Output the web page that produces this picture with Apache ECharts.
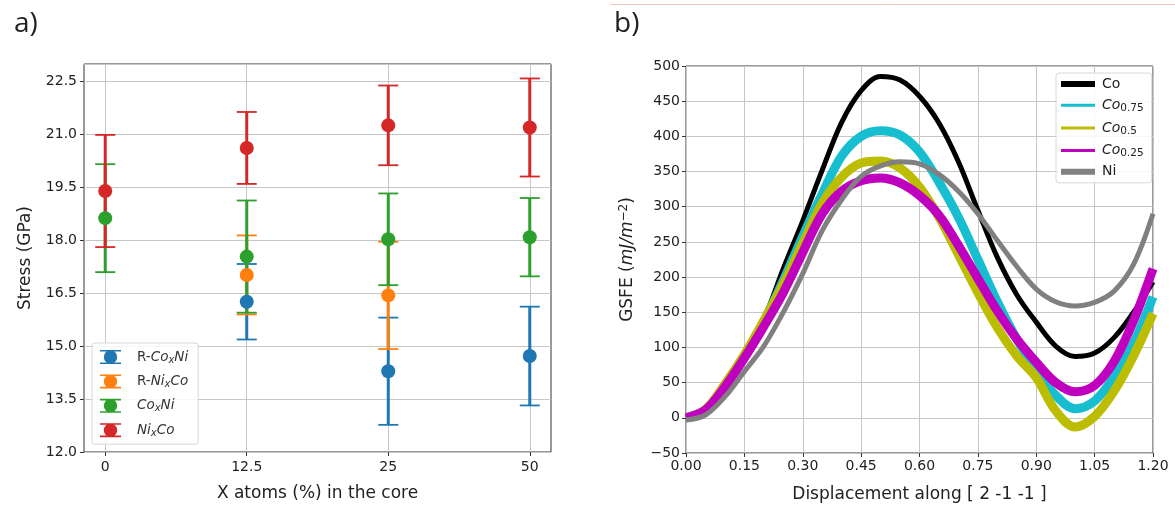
<!DOCTYPE html>
<html>
<head>
<meta charset="utf-8">
<script src="https://cdn.jsdelivr.net/npm/echarts@6/dist/echarts.min.js"></script>
<style>
  html, body { margin: 0; padding: 0; background: #fff; }
  #chart { width: 1175px; height: 508px; }
</style>
</head>
<body>
<div id="chart"></div>
<script>
// ---- panel a: stress with error bars ----
var coreLabels = ['0', '12.5', '25', '50'];
var rCoNiMean = [null, 16.26, 14.29, 14.72];
var rCoNiErr = [null, 1.07, 1.52, 1.40];
var rNiCoMean = [null, 17.02, 16.44, null];
var rNiCoErr = [null, 1.12, 1.52, null];
var coNiMean = [18.63, 17.54, 18.03, 18.09];
var coNiErr = [1.53, 1.59, 1.30, 1.11];
var niCoMean = [19.40, 20.62, 21.26, 21.20];
var niCoErr = [1.59, 1.02, 1.13, 1.39];

// ---- panel b: GSFE curves ----
var disp = [0, 0.05, 0.1, 0.15, 0.2, 0.25, 0.3, 0.35, 0.4, 0.45, 0.5, 0.55, 0.6,
  0.65, 0.7, 0.75, 0.8, 0.85, 0.9, 0.95, 1.0, 1.05, 1.1, 1.15, 1.2];
var gsfeCo = [0, 10, 45, 88, 140, 212, 280, 352, 420, 465, 485, 480, 457, 419, 364, 295, 228, 175, 136, 102, 87, 92, 114, 150, 193];
var gsfeCo75 = [0, 10, 45, 87, 137, 195, 258, 318, 372, 400, 408, 402, 378, 335, 285, 225, 165, 112, 68, 32, 13, 24, 58, 106, 172];
var gsfeCo50 = [0, 12, 48, 90, 138, 190, 248, 305, 342, 362, 365, 355, 328, 285, 232, 178, 128, 88, 57, 10, -13, 2, 38, 88, 148];
var gsfeCo25 = [0, 11, 44, 85, 130, 178, 235, 290, 322, 337, 341, 334, 316, 288, 245, 198, 152, 112, 79, 50, 37, 46, 80, 138, 212];
var gsfeNi = [-3, 4, 30, 66, 102, 150, 205, 266, 310, 343, 358, 364, 361, 346, 322, 290, 252, 215, 183, 165, 159, 164, 180, 218, 290];

var FONT = 'DejaVu Sans';
var GRIDC = '#c6c6c6';
var AXC = '#333';

function pts(mean, err) {
  var out = [];
  mean.forEach(function (m, i) {
    if (m !== null) out.push([i, m, err[i]]);
  });
  return out;
}

function errSeries(name, color, mean, err) {
  return {
    name: name,
    type: 'custom',
    xAxisIndex: 0,
    yAxisIndex: 0,
    itemStyle: { color: color },
    data: pts(mean, err),
    renderItem: function (params, api) {
      var x = api.value(0), y = api.value(1), e = api.value(2);
      var top = api.coord([x, y + e]);
      var bot = api.coord([x, y - e]);
      var half = 10;
      return {
        type: 'group',
        children: [
          { type: 'line', shape: { x1: top[0], y1: top[1], x2: bot[0], y2: bot[1] }, style: { stroke: color, lineWidth: 3 } },
          { type: 'line', shape: { x1: top[0] - half, y1: top[1], x2: top[0] + half, y2: top[1] }, style: { stroke: color, lineWidth: 1.8 } },
          { type: 'line', shape: { x1: bot[0] - half, y1: bot[1], x2: bot[0] + half, y2: bot[1] }, style: { stroke: color, lineWidth: 1.8 } }
        ]
      };
    },
    z: 2
  };
}

function dotSeries(name, color, mean, err) {
  return {
    name: name,
    type: 'scatter',
    xAxisIndex: 0,
    yAxisIndex: 0,
    symbol: 'circle',
    symbolSize: 14,
    itemStyle: { color: color, opacity: 1 },
    data: pts(mean, err).map(function (p) { return [p[0], p[1]]; }),
    z: 3
  };
}

function curve(name, color, ys, width) {
  return {
    name: name,
    type: 'line',
    xAxisIndex: 1,
    yAxisIndex: 1,
    showSymbol: false,
    symbol: 'none',
    smooth: 0.35,
    lineStyle: { color: color, width: width },
    itemStyle: { color: color },
    data: disp.map(function (x, i) { return [x, ys[i]]; }),
    z: 2
  };
}

var errIcon = 'path://M0,0H21V1.6H0Z M0,12.4H21V14H0Z M10.5,0.3A6.7,6.7 0 1,1 10.49,0.3Z';

var subRich = {
  n: { fontFamily: FONT, fontSize: 13.5, color: '#333', lineHeight: 16 },
  i: { fontFamily: FONT, fontSize: 13.5, fontStyle: 'italic', color: '#333', lineHeight: 16 },
  s: { fontFamily: FONT, fontSize: 10, fontStyle: 'italic', color: '#333', lineHeight: 16, padding: [6, 0, 0, 0] }
};
var subRichB = {
  n: { fontFamily: FONT, fontSize: 14, color: '#222', lineHeight: 16 },
  i: { fontFamily: FONT, fontSize: 14, fontStyle: 'italic', color: '#222', lineHeight: 16 },
  s: { fontFamily: FONT, fontSize: 10.5, color: '#222', lineHeight: 16, padding: [6, 0, 0, 0] }
};

var legendALabels = {
  'R-CoxNi': '{n|R-}{i|Co}{s|x}{i|Ni}',
  'R-NixCo': '{n|R-}{i|Ni}{s|x}{i|Co}',
  'CoxNi': '{i|Co}{s|x}{i|Ni}',
  'NixCo': '{i|Ni}{s|x}{i|Co}'
};
var legendBLabels = {
  'Co': '{n|Co}',
  'Co0.75': '{i|Co}{s|0.75}',
  'Co0.5': '{i|Co}{s|0.5}',
  'Co0.25': '{i|Co}{s|0.25}',
  'Ni': '{n|Ni}'
};

var chart = echarts.init(document.getElementById('chart'), null, { renderer: 'canvas' });

var option = {
  backgroundColor: '#fff',
  animation: false,
  textStyle: { fontFamily: FONT },
  graphic: [
    { type: 'text', left: 14, top: 10, style: { text: 'a)', font: '28px "Open Sans"', fill: '#222' } },
    { type: 'text', left: 614, top: 10, style: { text: 'b)', font: '28px "Open Sans"', fill: '#222' } },
    { type: 'line', shape: { x1: 610, y1: 4.5, x2: 1175, y2: 4.5 }, style: { stroke: '#f6c4c4', lineWidth: 1 } }
  ],
  grid: [
    { left: 84, right: 624, top: 64, bottom: 56, show: true, borderColor: AXC, borderWidth: 1, backgroundColor: 'transparent' },
    { left: 686, right: 22, top: 66, bottom: 55, show: true, borderColor: AXC, borderWidth: 1, backgroundColor: 'transparent' }
  ],
  legend: [
    {
      left: 92, top: 343, orient: 'vertical',
      data: ['R-CoxNi', 'R-NixCo', 'CoxNi', 'NixCo'].map(function (n) { return { name: n, icon: errIcon }; }),
      itemWidth: 21, itemHeight: 14, itemGap: 8.4,
      backgroundColor: 'rgba(255,255,255,0.85)', borderColor: '#d8d8d8', borderWidth: 1, borderRadius: 3,
      padding: [6, 10, 6, 8],
      formatter: function (name) { return legendALabels[name]; },
      textStyle: { rich: subRich, padding: [0, 0, 0, 11] }
    },
    {
      left: 1056, top: 73, orient: 'vertical',
      data: [
        { name: 'Co', lineStyle: { width: 6 }, itemStyle: { opacity: 0 } },
        { name: 'Co0.75', lineStyle: { width: 3 }, itemStyle: { opacity: 0 } },
        { name: 'Co0.5', lineStyle: { width: 3 }, itemStyle: { opacity: 0 } },
        { name: 'Co0.25', lineStyle: { width: 3 }, itemStyle: { opacity: 0 } },
        { name: 'Ni', lineStyle: { width: 6 }, itemStyle: { opacity: 0 } }
      ],
      itemWidth: 34, itemHeight: 10, itemGap: 5.7,
      backgroundColor: 'rgba(255,255,255,0.85)', borderColor: '#d8d8d8', borderWidth: 1, borderRadius: 3,
      padding: [4, 8, 4, 2],
      formatter: function (name) { return legendBLabels[name]; },
      textStyle: { rich: subRichB, padding: [0, 0, 0, 2] }
    }
  ],
  xAxis: [
    {
      gridIndex: 0, type: 'value', min: -0.15, max: 3.15,
      name: 'X atoms (%) in the core', nameLocation: 'middle', nameGap: 33,
      nameTextStyle: { fontFamily: FONT, fontSize: 17, color: '#222' },
      axisLine: { show: false, onZero: false },
      axisTick: { show: true, customValues: [0, 1, 2, 3], length: 4, lineStyle: { color: AXC } },
      axisLabel: { customValues: [0, 1, 2, 3], formatter: function (v) { return coreLabels[Math.round(v)]; }, fontSize: 14, color: '#222', margin: 8 },
      splitLine: { show: true, lineStyle: { color: GRIDC, width: 1 } }
    },
    {
      gridIndex: 1, type: 'value', min: 0, max: 1.2, interval: 0.15,
      name: 'Displacement along [ 2 -1 -1 ]', nameLocation: 'middle', nameGap: 33,
      nameTextStyle: { fontFamily: FONT, fontSize: 17, color: '#222' },
      axisLine: { show: false, onZero: false },
      axisTick: { show: true, length: 4, lineStyle: { color: AXC } },
      axisLabel: { formatter: function (v) { return v.toFixed(2); }, fontSize: 14, color: '#222', margin: 6 },
      splitLine: { show: true, lineStyle: { color: GRIDC, width: 1 } }
    }
  ],
  yAxis: [
    {
      gridIndex: 0, type: 'value', min: 12, max: 23, interval: 1.5,
      name: 'Stress (GPa)', nameLocation: 'middle', nameGap: 50,
      nameTextStyle: { fontFamily: FONT, fontSize: 17, color: '#222' },
      axisLine: { show: false, onZero: false },
      axisTick: { show: true, length: 4, lineStyle: { color: AXC } },
      axisLabel: { formatter: function (v) { return v.toFixed(1); }, showMaxLabel: false, fontSize: 14, color: '#222', margin: 7 },
      splitLine: { show: true, lineStyle: { color: GRIDC, width: 1 } }
    },
    {
      gridIndex: 1, type: 'value', min: -50, max: 500, interval: 50,
      name: 'GSFE ({it|mJ/m}{sup|−2})', nameLocation: 'middle', nameGap: 48,
      nameTextStyle: {
        fontFamily: FONT, fontSize: 17, color: '#222',
        rich: {
          it: { fontFamily: FONT, fontSize: 17, fontStyle: 'italic', color: '#222' },
          sup: { fontFamily: FONT, fontSize: 12, color: '#222', padding: [0, 0, 8, 0] }
        }
      },
      axisLine: { show: false, onZero: false },
      axisTick: { show: true, length: 4, lineStyle: { color: AXC } },
      axisLabel: { formatter: function (v) { return v < 0 ? '\u2212' + Math.abs(v) : String(v); }, fontSize: 14, color: '#222', margin: 6 },
      splitLine: { show: true, lineStyle: { color: GRIDC, width: 1 } }
    }
  ],
  series: [
    errSeries('R-CoxNi', '#1f77b4', rCoNiMean, rCoNiErr),
    dotSeries('R-CoxNi', '#1f77b4', rCoNiMean, rCoNiErr),
    errSeries('R-NixCo', '#ff7f0e', rNiCoMean, rNiCoErr),
    dotSeries('R-NixCo', '#ff7f0e', rNiCoMean, rNiCoErr),
    errSeries('CoxNi', '#2ca02c', coNiMean, coNiErr),
    dotSeries('CoxNi', '#2ca02c', coNiMean, coNiErr),
    errSeries('NixCo', '#d62728', niCoMean, niCoErr),
    dotSeries('NixCo', '#d62728', niCoMean, niCoErr),
    curve('Co', '#000000', gsfeCo, 5),
    curve('Co0.75', '#17becf', gsfeCo75, 9),
    curve('Co0.5', '#bcbd00', gsfeCo50, 9),
    curve('Co0.25', '#bf00bf', gsfeCo25, 9),
    curve('Ni', '#808080', gsfeNi, 5)
  ]
};

chart.setOption(option);
</script>
</body>
</html>
